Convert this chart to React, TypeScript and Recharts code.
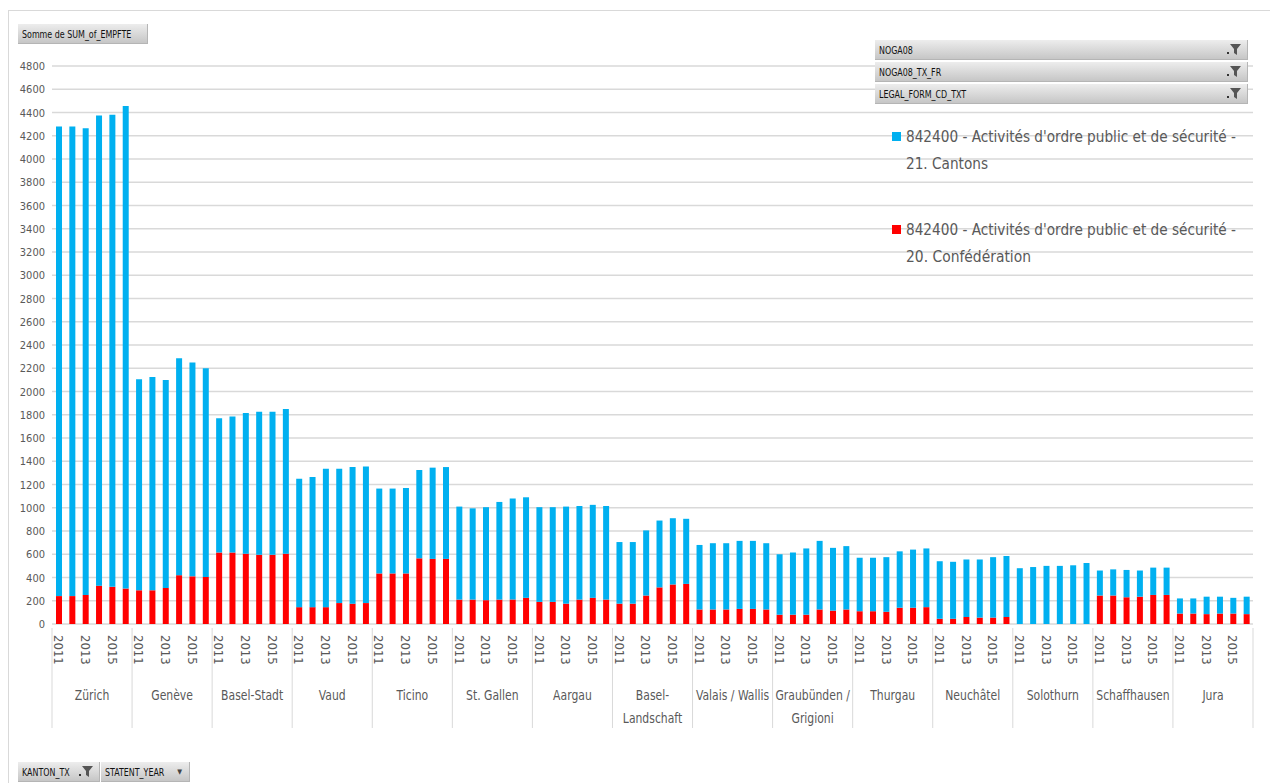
import React from "react";
import { BarChart, Bar, XAxis, YAxis, CartesianGrid } from "recharts";

const YEARS = [2011, 2012, 2013, 2014, 2015, 2016];

const CANTONS = [
  "Zürich",
  "Genève",
  "Basel-Stadt",
  "Vaud",
  "Ticino",
  "St. Gallen",
  "Aargau",
  "Basel-\nLandschaft",
  "Valais / Wallis",
  "Graubünden /\nGrigioni",
  "Thurgau",
  "Neuchâtel",
  "Solothurn",
  "Schaffhausen",
  "Jura",
];

// 20. Confédération (red, bottom of the stack)
const CONFED = [
  [240, 240, 250, 330, 320, 305],
  [290, 290, 310, 420, 410, 405],
  [615, 615, 605, 595, 595, 605],
  [145, 145, 145, 180, 175, 180],
  [435, 435, 435, 565, 560, 560],
  [210, 210, 205, 210, 210, 225],
  [190, 190, 175, 210, 225, 210],
  [175, 175, 245, 315, 340, 345],
  [125, 125, 125, 130, 130, 125],
  [80, 80, 80, 125, 115, 125],
  [110, 110, 105, 140, 140, 145],
  [45, 45, 60, 55, 55, 60],
  [0, 0, 0, 0, 0, 0],
  [245, 245, 230, 235, 250, 250],
  [90, 90, 85, 90, 90, 85],
];

// 21. Cantons (blue, top of the stack)
const CANTONAL = [
  [4040, 4040, 4015, 4045, 4060, 4150],
  [1815, 1835, 1790, 1865, 1840, 1795],
  [1155, 1170, 1210, 1230, 1230, 1245],
  [1105, 1120, 1190, 1155, 1175, 1175],
  [730, 730, 735, 760, 785, 790],
  [800, 785, 800, 840, 870, 865],
  [815, 815, 835, 805, 800, 805],
  [530, 530, 560, 575, 570, 560],
  [555, 570, 570, 585, 585, 570],
  [520, 535, 570, 590, 540, 545],
  [460, 460, 470, 485, 500, 505],
  [495, 490, 495, 500, 520, 525],
  [480, 490, 500, 500, 505, 525],
  [215, 225, 235, 225, 235, 235],
  [130, 130, 150, 145, 135, 150],
];

const Y_TICKS = [
  0, 200, 400, 600, 800, 1000, 1200, 1400, 1600, 1800, 2000, 2200, 2400, 2600,
  2800, 3000, 3200, 3400, 3600, 3800, 4000, 4200, 4400, 4600, 4800,
];

const LEGEND_LINE = "842400 - Activités d'ordre public et de sécurité -";
const LEGEND_SECOND = ["21. Cantons", "20. Confédération"];

const data = CANTONS.flatMap((canton, ci) =>
  YEARS.map((year, yi) => ({
    key: `${ci}-${year}`,
    canton,
    year,
    confed: CONFED[ci][yi],
    cantons: CANTONAL[ci][yi],
  }))
);

const W = 1270;
const H = 783;
const PLOT_LEFT = 52;
const PLOT_RIGHT = 1253;
const AXIS_Y = 624;
const BAND = (PLOT_RIGHT - PLOT_LEFT) / data.length;
const FONT = "'DejaVu Sans Condensed', 'Liberation Sans', sans-serif";
const GREY_TXT = "#595959";
const BLUE = "#00B0F0";
const RED = "#FF0000";

const YTick = (props: any) => {
  const { y, payload } = props;
  return (
    <text x={45} y={y} dy={4} textAnchor="end" fontSize={11} fill={GREY_TXT} fontFamily={FONT}>
      {payload.value}
    </text>
  );
};

const XTick = (props: any) => {
  const { x, index } = props;
  const row = data[index];
  if (!row) return null;
  const showYear = row.year % 2 === 1;
  const first = row.year === YEARS[0];
  const last = index === data.length - 1;
  const lines = row.canton.split("\n");
  const cx = x + 2.5 * BAND;
  return (
    <g>
      {first && (
        <line x1={x - BAND / 2} x2={x - BAND / 2} y1={AXIS_Y + 4} y2={AXIS_Y + 104} stroke="#D9D9D9" />
      )}
      {last && (
        <line x1={x + BAND / 2} x2={x + BAND / 2} y1={AXIS_Y + 4} y2={AXIS_Y + 104} stroke="#D9D9D9" />
      )}
      {showYear && (
        <text
          x={x}
          y={AXIS_Y + 11}
          transform={`rotate(90, ${x}, ${AXIS_Y + 11})`}
          textAnchor="start"
          dominantBaseline="central"
          fontSize={13}
          fill={GREY_TXT}
          fontFamily={FONT}
        >
          {row.year}
        </text>
      )}
      {first &&
        lines.map((ln: string, i: number) => (
          <text
            key={i}
            transform={`translate(${cx}, ${AXIS_Y + 71 + i * 23}) scale(0.86, 1)`}
            dominantBaseline="central"
            textAnchor="middle"
            fontSize={14}
            fill={GREY_TXT}
            fontFamily={FONT}
          >
            {ln}
          </text>
        ))}
    </g>
  );
};

const Funnel = () => (
  <svg width="14" height="12" viewBox="0 0 14 12" style={{ position: "absolute", right: 6, top: 4 }}>
    <rect x="0" y="8" width="2" height="2" fill="#333" />
    <path d="M3 0 H14 L10 5 V11 L7 9 V5 Z" fill="#555" />
  </svg>
);

const PivotButton: React.FC<{
  label: string;
  left: number;
  top: number;
  width: number;
  height?: number;
  icon?: "funnel" | "arrow" | "none";
}> = ({ label, left, top, width, height = 20, icon = "none" }) => (
  <div
    style={{
      position: "absolute",
      left,
      top,
      width,
      height,
      boxSizing: "border-box",
      background: "linear-gradient(#EDEDED, #C6C6C6)",
      borderBottom: "1px solid #B5B5B5",
      borderRight: "1px solid #B5B5B5",
      fontFamily: FONT,
      fontSize: 10.5,
      color: "#111",
      lineHeight: `${height}px`,
      paddingLeft: 4,
      whiteSpace: "nowrap",
    }}
  >
    <span style={{ display: "inline-block", transform: "scaleX(0.84)", transformOrigin: "left center" }}>
      {label}
    </span>
    {icon === "funnel" && <Funnel />}
    {icon === "arrow" && (
      <span style={{ position: "absolute", right: 7, top: 0, fontSize: 7, color: "#444" }}>▼</span>
    )}
  </div>
);

const Legend = () => (
  <svg width={W} height={H} style={{ position: "absolute", left: 0, top: 0, pointerEvents: "none" }}>
    {[BLUE, RED].map((c, i) => {
      const top = 137 + i * 93;
      return (
        <g key={c} fontFamily={FONT} fontSize={15.5} fill={GREY_TXT}>
          <rect x={892} y={top - 5} width={9} height={9} fill={c} />
          <text x={906} y={top} dominantBaseline="central" textLength={330} lengthAdjust="spacingAndGlyphs">
            {LEGEND_LINE}
          </text>
          <text
            x={906}
            y={top + 27}
            dominantBaseline="central"
            textLength={i === 0 ? 82 : 125}
            lengthAdjust="spacingAndGlyphs"
          >
            {LEGEND_SECOND[i]}
          </text>
        </g>
      );
    })}
  </svg>
);

export default function App() {
  return (
    <div style={{ position: "absolute", left: 0, top: 0, width: W, height: H, background: "#fff", overflow: "hidden" }}>
      <div
        style={{
          position: "absolute",
          left: 8,
          top: 10,
          width: W - 8,
          height: H - 10,
          borderLeft: "1px solid #D9D9D9",
          borderTop: "1px solid #D9D9D9",
        }}
      />
      <BarChart
        width={W}
        height={H}
        data={data}
        margin={{ top: 66, right: W - PLOT_RIGHT, bottom: 0, left: 7 }}
        barSize={6}
        style={{ position: "absolute", left: 0, top: 0 }}
      >
        <CartesianGrid vertical={false} stroke="#D9D9D9" strokeWidth={1.5} />
        <YAxis
          width={45}
          domain={[0, 4800]}
          ticks={Y_TICKS}
          interval={0}
          axisLine={false}
          tickLine={false}
          tick={<YTick />}
        />
        <XAxis
          dataKey="key"
          height={H - AXIS_Y}
          interval={0}
          axisLine={false}
          tickLine={false}
          tick={<XTick />}
        />
        <Bar dataKey="confed" stackId="a" fill={RED} isAnimationActive={false} />
        <Bar dataKey="cantons" stackId="a" fill={BLUE} isAnimationActive={false} />
      </BarChart>

      <Legend />

      <PivotButton label="Somme de SUM_of_EMPFTE" left={18} top={24} width={130} />
      <PivotButton label="NOGA08" left={875} top={40} width={373} icon="funnel" />
      <PivotButton label="NOGA08_TX_FR" left={875} top={62} width={373} icon="funnel" />
      <PivotButton label="LEGAL_FORM_CD_TXT" left={875} top={84} width={373} icon="funnel" />
      <PivotButton label="KANTON_TX" left={18} top={762} width={82} icon="funnel" />
      <PivotButton label="STATENT_YEAR" left={101} top={762} width={89} icon="arrow" />
    </div>
  );
}
